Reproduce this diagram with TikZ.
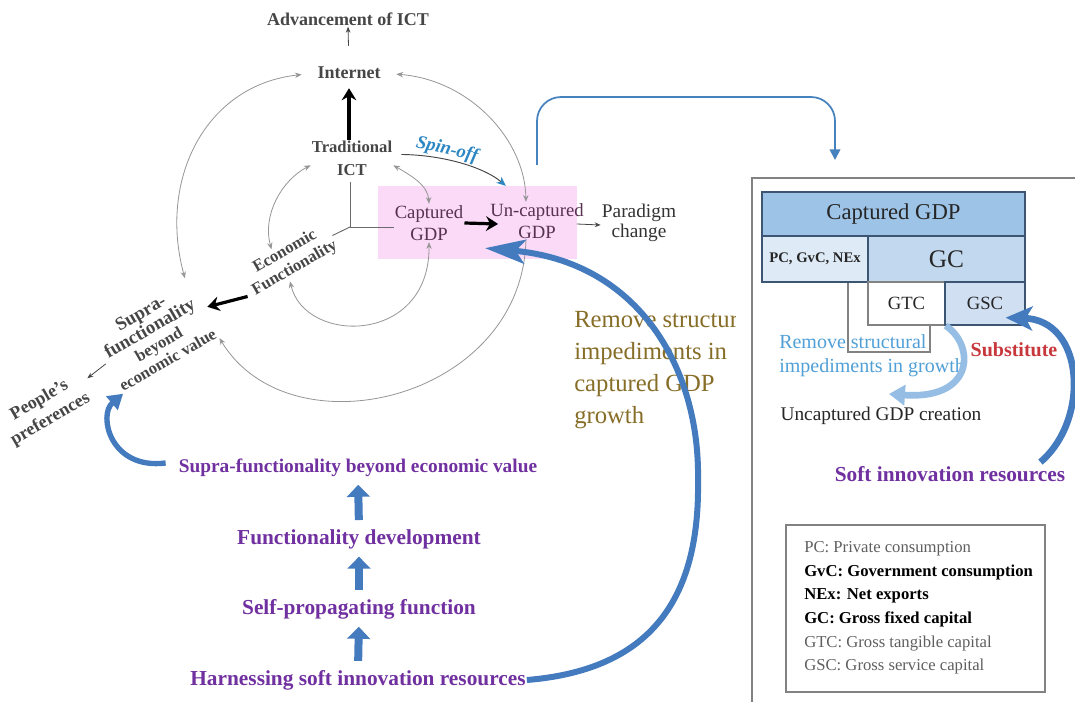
\documentclass[tikz,border=0pt]{standalone}
\usepackage{fontspec}
\setmainfont{Liberation Serif}
\usetikzlibrary{arrows.meta,calc}

\definecolor{ringgray}{RGB}{150,150,150}
\definecolor{labelgray}{RGB}{70,70,70}
\definecolor{gdptext}{RGB}{88,50,80}
\definecolor{bandpink}{RGB}{250,218,247}
\definecolor{spinblue}{RGB}{45,135,195}
\definecolor{arrowblue}{RGB}{68,122,190}
\definecolor{linkblue}{RGB}{70,130,190}
\definecolor{stackpurple}{RGB}{112,48,160}
\definecolor{olivetext}{RGB}{135,110,40}
\definecolor{cellblue}{RGB}{157,195,230}
\definecolor{celllight}{RGB}{222,235,247}
\definecolor{cellmid}{RGB}{194,216,238}
\definecolor{cellgsc}{RGB}{208,224,242}
\definecolor{celledge}{RGB}{60,85,115}
\definecolor{boxgray}{RGB}{130,130,130}
\definecolor{growblue}{RGB}{80,160,215}
\definecolor{subred}{RGB}{200,55,60}
\definecolor{softblue}{RGB}{150,190,228}
\definecolor{legendgray}{RGB}{95,95,95}

\tikzset{
  ring/.style={draw=ringgray, line width=0.6pt},
  ringboth/.style={ring, {Stealth[length=5pt,width=4pt]}-{Stealth[length=5pt,width=4pt]}},
  ringto/.style={ring, -{Stealth[length=5pt,width=4pt]}},
  thinarrow/.style={draw=labelgray, line width=0.6pt, -{Stealth[length=4.5pt,width=3.5pt]}},
  spoke/.style={draw=labelgray!80, line width=0.7pt},
  heavy/.style={draw=black, line width=2.4pt, -{Stealth[length=9pt,width=11pt,inset=3pt]}},
  spinarrow/.style={draw=labelgray, line width=0.7pt, -{Stealth[length=7pt,width=6pt,color=spinblue]}},
  lbl/.style={inner sep=0.75pt, align=center, text=labelgray, font=\bfseries\fontsize{12.5}{17}\selectfont},
  gdplbl/.style={inner sep=0.75pt, align=center, text=gdptext, font=\fontsize{14}{17}\selectfont},
  stacklbl/.style={inner sep=0.75pt, text=stackpurple, font=\bfseries\fontsize{16}{19}\selectfont},
  stackup/.style={draw=arrowblue, line width=6pt, -{Triangle[length=9pt,width=17pt]}, shorten <=6pt, shorten >=5pt},
  swoop/.style={draw=arrowblue, line width=4pt, -{Triangle[length=11pt,width=13pt]}},
  bigswoop/.style={draw=arrowblue, line width=4.5pt, -{Stealth[length=30pt,width=18pt,inset=7pt]}},
  curl/.style={draw=softblue, line width=5pt, -{Triangle[length=12pt,width=15pt]}},
  link/.style={draw=linkblue, line width=1.3pt, -{Triangle[length=8pt,width=8pt]}},
  cell/.style={draw=celledge, line width=1pt, inner sep=0pt, text=black!85, font=\fontsize{14}{17}\selectfont},
  paneltxt/.style={inner sep=0.75pt, align=left},
}

\begin{document}
\begin{tikzpicture}[x=0.75pt,y=0.75pt,yscale=-1,xscale=1]
\useasboundingbox (0,0) rectangle (1075,702);
\fill[white] (0,0) rectangle (1075,702);

%Pink band behind the GDP labels
\fill[bandpink] (378,186) rectangle (577,259);

% Text Nodes of the circle
\node[lbl, font=\bfseries\fontsize{13.5}{16}\selectfont] (adv) at (348,19) {Advancement of ICT};
\node[lbl, font=\bfseries\fontsize{13.5}{16}\selectfont] (internet) at (349,73) {Internet};
\node[lbl] (trad) at (352,158) {Traditional\\ICT};
\node[gdplbl] (capt) at (429,223) {Captured\\GDP};
\node[gdplbl] (uncap) at (537,221) {Un-captured\\GDP};
\node[lbl, text=black!80, font=\fontsize{14.5}{15}\selectfont] (paradigm) at (639,223) {Paradigm\\change};
\node[lbl, rotate=30, font=\bfseries\fontsize{12.5}{14.5}\selectfont] (econ) at (290,260) {Economic\\Functionality};
\node[lbl, rotate=30, font=\bfseries\fontsize{12.5}{13.5}\selectfont] (supra) at (154,336) {{\fontsize{14}{14}\selectfont Supra-}\\{\fontsize{14}{14}\selectfont functionality}\\beyond\\economic value};
\node[lbl, rotate=30, font=\bfseries\fontsize{13.5}{16.5}\selectfont] (people) at (45,410) {People's\\preferences};
\node[inner sep=0.75pt, rotate=-13, text=spinblue, font=\bfseries\itshape\fontsize{14}{16}\selectfont] (spin) at (447,150) {Spin-off};

% Text Nodes of the stack
\node[stacklbl, font=\bfseries\fontsize{14.5}{17}\selectfont] (supraval) at (358,468) {Supra-functionality beyond economic value};
\node[stacklbl] (funcdev) at (359,539) {Functionality development};
\node[stacklbl] (selfprop) at (359,609) {Self-propagating function};
\node[stacklbl] (harness) at (358,680) {Harnessing soft innovation resources};

\begin{scope}
\clip (560,290) rectangle (735,440);
\node[paneltxt, anchor=west, text=olivetext, font=\fontsize{18.5}{23.8}\selectfont] (remove) at (573,370) {Remove structur\\impediments in\\captured GDP\\growth};
\end{scope}

%Straight Lines of the hub
\coordinate (hub) at (350,227);
\draw[spoke, shorten <=4pt] (trad.south -| hub) -- (hub) -- (hub -| capt.west);
\draw[spoke] (hub) -- (econ.east);

%Curve Lines of the circle
\draw[ringboth, shorten >=11pt] (supra.north east) .. controls (158,180) and (205,85) .. (internet.west);
\draw[ringboth, shorten <=11pt] (internet.east) .. controls (470,80) and (525,140) .. (uncap.120);
\draw[ringto] (uncap.240) .. controls (522,400) and (290,455) .. (supra.south east);
\draw[ringboth] (trad.190) .. controls (282,180) and (262,215) .. (econ.120);
\draw[ringboth] (econ.240) .. controls (305,345) and (430,345) .. (capt.south);
\draw[ringboth] (trad.350) .. controls (410,175) and (428,185) .. (capt.north);
\draw[spinarrow, shorten <=6pt] (trad.5) .. controls (445,155) and (485,168) .. ($(uncap.150)+(2,-16)$);

%Straight Lines with arrows
\draw[heavy, shorten >=6pt] (internet.south |- trad.north) -- (internet.south);
\draw[heavy] (capt.east) -- ($(uncap.west)+(9,3)$);
\draw[heavy, shorten >=4pt] ($(econ.west)+(0,12)$) -- (supra.east);
\draw[thinarrow, shorten <=15pt] (internet.north) -- (adv.south);
\draw[thinarrow] ($(uncap.east)+(-8,3)$) -- ($(paradigm.west)+(0,2)$);
\draw[thinarrow] (supra.west) -- ($(people.east)+(3,-9)$);

%Block arrows of the stack
\draw[stackup] (funcdev.north) -- (supraval.south);
\draw[stackup] (selfprop.north) -- (funcdev.south);
\draw[stackup] (harness.north) -- (selfprop.south);
\draw[swoop] ($(supraval.west)+(-12,-5)$) .. controls (110,470) and (98,415) .. (supra.south west);
\draw[bigswoop] (harness.east) .. controls (650,670) and (700,600) .. (698,480) .. controls (700,370) and (640,262) .. ($(uncap.south west)+(-4,8)$);

%Link to the right panel
\coordinate (linkstart) at (537,165);
\coordinate (linkend) at (835,160);
\draw[link, rounded corners=18pt] (linkstart) |- (linkend |- 0,97) -- (linkend);

% Right panel
\draw[draw=boxgray, line width=1.5pt] (752,702) |- (1075,178);
\node[cell, draw=boxgray, minimum width=61.5pt, minimum height=52.5pt] (ucbox) at (889,317) {};
\node[cell, fill=cellblue, minimum width=197.25pt, minimum height=33pt, font=\fontsize{17}{20}\selectfont] (capgdp) at (893.5,214) {Captured GDP};
\node[cell, fill=celllight, minimum width=79.5pt, minimum height=34.5pt, font=\bfseries\fontsize{11}{13}\selectfont] (pcbox) at (815,259) {PC, GvC, NEx};
\node[cell, fill=cellmid, minimum width=117.75pt, minimum height=34.5pt, font=\fontsize{19}{22}\selectfont] (gcbox) at (946.5,259) {GC};
\node[paneltxt, anchor=west, text=growblue, font=\fontsize{15}{18}\selectfont] (grow) at (778,356) {Remove structural\\impediments in growth};
\node[cell, draw=boxgray, fill=white, minimum width=57.75pt, minimum height=32.25pt] (gtc) at (906.5,303.5) {GTC};
\node[cell, fill=cellgsc, minimum width=60pt, minimum height=32.25pt] (gsc) at (985,303.5) {GSC};
\node[inner sep=0.75pt, text=subred, font=\bfseries\fontsize{15}{18}\selectfont] (subst) at (1014,350) {Substitute};
\node[inner sep=0.75pt, text=black!85, font=\fontsize{14.5}{17}\selectfont] (uccreate) at (881,416) {Uncaptured GDP creation};
\node[stacklbl] (softres) at (950,474) {Soft innovation resources};

%Curve arrows of the right panel
\draw[curl] (gtc.south east) .. controls (975,345) and (975,400) .. ($(uccreate.north)+(8,-12)$);
\draw[draw=arrowblue, line width=5pt, -{Stealth[length=20pt,width=18pt,inset=5pt]}] ($(softres.north east)+(-26,-3)$) .. controls (1090,420) and (1085,320) .. ($(gsc.south east)+(-20,-8)$);

% Legend
\draw[draw=boxgray, line width=1.2pt] (786,525) rectangle (1045,692);
\node[paneltxt, anchor=west, text=legendgray, font=\fontsize{12.5}{17.7}\selectfont] (legend) at (803,608) {PC: Private consumption\\\textcolor{black}{\bfseries GvC: Government consumption}\\\textcolor{black}{\bfseries NEx: Net exports}\\\textcolor{black}{\bfseries GC: Gross fixed capital}\\GTC: Gross tangible capital\\GSC: Gross service capital};

\end{tikzpicture}
\end{document}
